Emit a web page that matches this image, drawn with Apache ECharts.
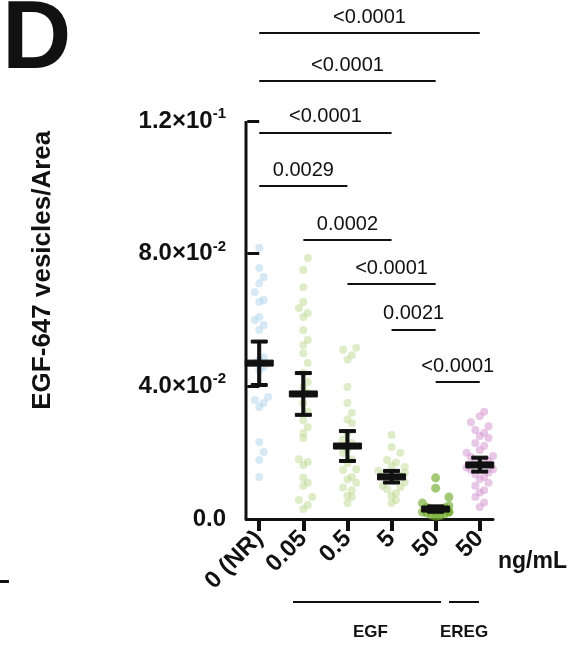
<!DOCTYPE html>
<html><head><meta charset="utf-8">
<script src="https://cdn.jsdelivr.net/npm/echarts@6/dist/echarts.min.js"></script>
<style>html,body{margin:0;padding:0;background:#fff}#c{width:576px;height:650px}</style>
</head><body><div id="c"></div>
<script>
// dose categories (ng/mL)
var doseLabels = ['0 (NR)', '0.05', '0.5', '5', '50', '50'];
var groupColors = ['rgba(170,210,235,0.6)', 'rgba(185,215,140,0.6)', 'rgba(185,215,140,0.6)', 'rgba(185,215,140,0.6)', 'rgba(110,170,40,0.8)', 'rgba(210,140,205,0.6)'];

// per-cell values
var g0 = [.0817,.0757,.0730,.0711,.0684,.0660,.0654,.0609,.0600,.0585,.0570,.0488,.0479,.0470,.0458,.0449,.0368,.0359,.0350,.0338,.0232,.0202,.0178,.0127];
var g1 = [.0787,.0751,.0699,.0654,.0636,.0621,.0609,.0570,.0540,.0525,.0500,.0470,.0440,.0413,.0398,.0380,.0350,.0323,.0298,.0277,.0259,.0244,.0180,.0172,.0163,.0124,.0109,.0100,.0066,.0057,.0042,.0030];
var g2 = [.0516,.0510,.0494,.0480,.0398,.0350,.0320,.0300,.0289,.0259,.0240,.0229,.0210,.0199,.0180,.0169,.0150,.0148,.0127,.0120,.0109,.0095,.0087,.0070,.0066,.0048];
var g3 = [.0253,.0217,.0200,.0178,.0170,.0160,.0157,.0145,.0139,.0135,.0130,.0125,.0120,.0118,.0110,.0100,.0096,.0090,.0078,.0070,.0057,.0048];
var g4 = [.0124,.0093,.0066,.0048,.0040,.0035,.0033,.0030,.0028,.0025,.0022,.0021,.0020,.0018,.0015,.0012,.0010,.0008];
var g5 = [.0323,.0310,.0292,.0280,.0268,.0260,.0250,.0244,.0229,.0220,.0208,.0200,.0190,.0187,.0175,.0170,.0169,.0160,.0155,.0150,.0148,.0140,.0135,.0127,.0120,.0109,.0100,.0087,.0080,.0066,.0050,.0036];
var groups = [g0, g1, g2, g3, g4, g5];

// mean and error bar ends
var means = [0.0470, 0.0377, 0.0220, 0.0127, 0.0030, 0.0163];
var errLo = [0.0404, 0.0314, 0.0175, 0.0110, 0.0022, 0.0143];
var errHi = [0.0535, 0.0440, 0.0265, 0.0145, 0.0038, 0.0185];

// significance brackets: [from, to, height, text]
var bracketFrom = [0, 0, 0, 0, 1, 2, 3, 4];
var bracketTo   = [5, 4, 3, 2, 3, 4, 4, 5];
var bracketY    = [0.1465, 0.1320, 0.1164, 0.1004, 0.0841, 0.0708, 0.0570, 0.0413];
var bracketText = ['<0.0001', '<0.0001', '<0.0001', '0.0029', '0.0002', '<0.0001', '0.0021', '<0.0001'];

var yTicks = [0, 0.04, 0.08, 0.12];
var yTickText = ['0.0', '4.0×10', '8.0×10', '1.2×10'];
var yTickExp = ['', '-2', '-2', '-1'];

// simple swarm offsets
function swarm(vals, x) {
  var s = vals.slice().sort(function (a, b) { return a - b; });
  var out = [], lastBin = null, k = 0;
  s.forEach(function (v) {
    var bin = Math.round(v / 0.0045);
    k = (bin === lastBin) ? k + 1 : 0;
    lastBin = bin;
    var off = (k === 0 ? 0 : (k % 2 ? 1 : -1) * Math.ceil(k / 2)) * 0.1;
    off = Math.max(-0.3, Math.min(0.3, off));
    out.push([x + off, v]);
  });
  return out;
}

var series = [];
groups.forEach(function (g, i) {
  series.push({
    type: 'scatter', data: swarm(g, i), symbolSize: i === 4 ? 9 : 8,
    itemStyle: { color: groupColors[i] }, z: 2
  });
});

series.push({
  type: 'custom', z: 5,
  data: means.map(function (m, i) { return [i, m, errLo[i], errHi[i]]; }),
  renderItem: function (params, api) {
    var c = api.coord([api.value(0), api.value(1)]);
    var lo = api.coord([api.value(0), api.value(2)]);
    var hi = api.coord([api.value(0), api.value(3)]);
    var st = { fill: '#111', stroke: '#111' };
    return { type: 'group', children: [
      { type: 'rect', shape: { x: c[0] - 1.5, y: hi[1], width: 3, height: lo[1] - hi[1] }, style: st },
      { type: 'rect', shape: { x: c[0] - 8, y: hi[1] - 1.5, width: 16, height: 3 }, style: st },
      { type: 'rect', shape: { x: c[0] - 8, y: lo[1] - 1.5, width: 16, height: 3 }, style: st },
      { type: 'rect', shape: { x: c[0] - 14, y: c[1] - 3, width: 28, height: 6 }, style: st }
    ] };
  }
});

// y axis line (stops at 0.12)
series.push({
  type: 'line', data: [[-0.3, 0], [-0.3, 0.12]], symbol: 'none',
  lineStyle: { color: '#111', width: 3 }, z: 6, silent: true
});

// brackets
series.push({
  type: 'line', data: [], silent: true,
  markLine: {
    symbol: 'none', animation: false,
    lineStyle: { color: '#111', width: 2, type: 'solid' },
    label: { show: true, position: 'middle', distance: 6, color: '#111', fontSize: 20, fontFamily: 'Liberation Sans' },
    emphasis: { disabled: true },
    data: bracketFrom.map(function (f, i) {
      return [{ coord: [f, bracketY[i]], label: { formatter: bracketText[i] } }, { coord: [bracketTo[i], bracketY[i]] }];
    })
  }
});

var chart = echarts.init(document.getElementById('c'));
chart.setOption({
  animation: false,
  grid: { left: 246, top: 21.5, width: 247, height: 497.5 },
  xAxis: {
    type: 'value', min: -0.3, max: 5.3,
    splitLine: { show: false },
    axisLine: { lineStyle: { color: '#111', width: 3 } },
    axisTick: { customValues: [0, 1, 2, 3, 4, 5], length: 12, lineStyle: { color: '#111', width: 4 } },
    axisLabel: {
      customValues: [0, 1, 2, 3, 4, 5], rotate: 45, margin: 16,
      fontSize: 24, fontWeight: 'bold', color: '#111', fontFamily: 'Liberation Sans',
      formatter: function (v) { return doseLabels[Math.round(v)]; }
    }
  },
  yAxis: {
    type: 'value', min: 0, max: 0.15,
    splitLine: { show: false },
    axisLine: { show: false },
    axisTick: { show: true, customValues: yTicks, length: 12, lineStyle: { color: '#111', width: 3 } },
    axisLabel: {
      customValues: yTicks, margin: 20,
      formatter: function (v) {
        var i = yTicks.indexOf(+v.toFixed(2));
        if (i < 0) return '';
        return '{b|' + yTickText[i] + '}' + (yTickExp[i] ? '{s|' + yTickExp[i] + '}' : '');
      },
      rich: {
        b: { fontSize: 24, fontWeight: 'bold', color: '#111', fontFamily: 'Liberation Sans' },
        s: { fontSize: 15, fontWeight: 'bold', color: '#111', fontFamily: 'Liberation Sans', padding: [0, 0, 14, 0] }
      }
    },
    name: 'EGF-647 vesicles/Area', nameLocation: 'middle', nameGap: 190,
    nameTextStyle: { fontSize: 26, fontWeight: 'bold', color: '#111', fontFamily: 'Liberation Sans' }
  },
  series: series,
  graphic: [
    { type: 'text', left: 2, top: -6, style: { text: 'D', fontSize: 96, fontWeight: 'bold', fill: '#111', fontFamily: 'Liberation Sans' } },
    { type: 'text', left: 498, top: 550, style: { text: 'ng/mL', fontSize: 23, fontWeight: 'bold', fill: '#111', fontFamily: 'Liberation Sans' } },
    { type: 'rect', shape: { x: 293, y: 601, width: 148, height: 2 }, style: { fill: '#111' } },
    { type: 'rect', shape: { x: 449, y: 601, width: 30, height: 2 }, style: { fill: '#111' } },
    { type: 'text', left: 353, top: 624, style: { text: 'EGF', fontSize: 17, fontWeight: 'bold', fill: '#111', fontFamily: 'Liberation Sans' } },
    { type: 'text', left: 440, top: 624, style: { text: 'EREG', fontSize: 17, fontWeight: 'bold', fill: '#111', fontFamily: 'Liberation Sans' } },
    { type: 'rect', shape: { x: 0, y: 580, width: 9, height: 3 }, style: { fill: '#111' } }
  ]
});
</script></body></html>
